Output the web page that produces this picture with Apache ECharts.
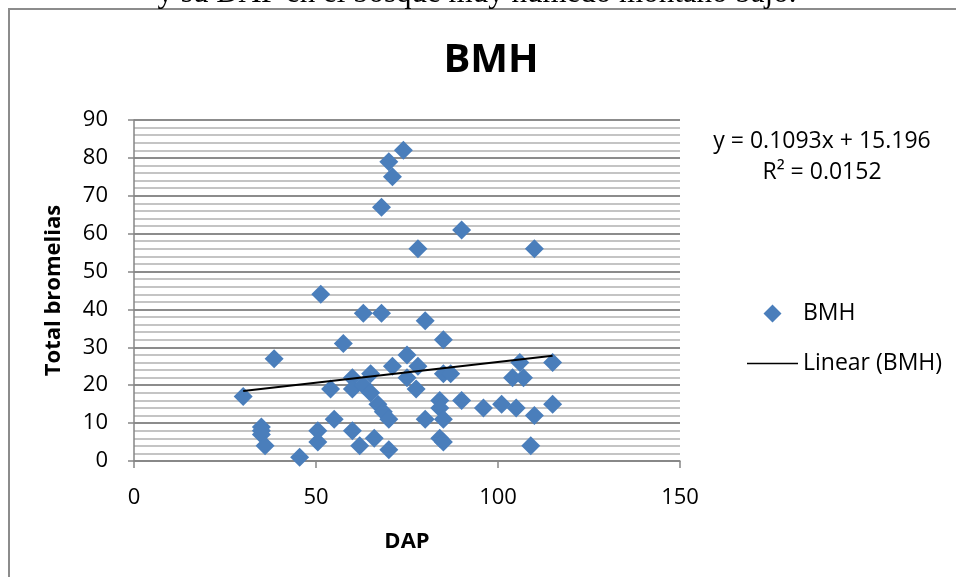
<!DOCTYPE html>
<html>
<head>
<meta charset="utf-8">
<script src="https://cdn.jsdelivr.net/npm/echarts@6/dist/echarts.min.js"></script>
<style>
html,body{margin:0;padding:0;background:#fff;}
#chart{width:956px;height:577px;}
</style>
</head>
<body>
<div id="chart"></div>
<script>
// DAP (x) values
var dap = [30,35,35,35,36,38.5,45.5,50.5,50.5,51.3,54,55,57.5,60,60,60,62,63,63,65,65,66,67,68.5,68,68,70,71,74,70,70,71,75,75,77.5,78,78,80,80,84,84,84,85,85,85,85,87,90,90,96,101,104,105,106,107,109,110,110,115,115];
// Total bromelias (y) values
var bromelias = [17,9,8,7,4,27,1,8,5,44,19,11,31,22,19,8,4,39,20,23,18,6,15,13,39,67,79,75,82,11,3,25,28,22,19,25,56,37,11,16,14,6,5,11,32,23,23,61,16,14,15,22,14,26,22,4,12,56,26,15];
var slope = 0.1093, intercept = 15.196;
var trendX = [30, 115];
var xTicks = [0, 50, 100, 150];
var yTicks = [0,10,20,30,40,50,60,70,80,90];

var pts = dap.map(function(x,i){return [x, bromelias[i]];});
var trend = trendX.map(function(x){return [x, slope*x+intercept];});

var FONT = '"Open Sans", "Noto Sans", sans-serif';
// legend icons: 51x18 box, invisible corner anchors keep the box size
var diamondIcon = 'path://M0,0L0.01,0L0,0.01Z M51,18L50.99,18L51,17.99Z M25.5,0L34.5,9L25.5,18L16.5,9Z';
var lineIcon = 'path://M0,0L0.01,0L0,0.01Z M51,18L50.99,18L51,17.99Z M0,8.2L51,8.2L51,9.8L0,9.8Z';

var chart = echarts.init(document.getElementById('chart'), null, {renderer:'canvas'});
chart.setOption({
  animation:false,
  backgroundColor:'#fff',
  title:{text:'BMH', left:486, top:36, textAlign:'center',
    textStyle:{fontFamily:FONT, fontWeight:'bold', fontSize:40, color:'#000'}},
  graphic:[
    {type:'rect', shape:{x:9, y:9, width:1000, height:700}, style:{fill:'none', stroke:'#8c8c8c', lineWidth:2}, z:-1},
    {type:'text', x:477, y:9, style:{text:'y su DAP en el bosque muy húmedo montano bajo.', fontFamily:'"Liberation Serif", serif', fontSize:31, fill:'#000', textAlign:'center', textVerticalAlign:'bottom'}},
    {type:'text', x:822, y:141, style:{text:'y = 0.1093x + 15.196', fontFamily:FONT, fontSize:23, fill:'#000', textAlign:'center', textVerticalAlign:'middle'}},
    {type:'text', x:822, y:172, style:{text:'R² = 0.0152', fontFamily:FONT, fontSize:23, fill:'#000', textAlign:'center', textVerticalAlign:'middle'}}
  ],
  legend:{left:742, top:297, orient:'vertical', itemWidth:51, itemHeight:18, itemGap:27,
      data:[
        {name:'BMH', icon:diamondIcon, itemStyle:{color:'#4a7ebb', borderWidth:0}},
        {name:'Linear (BMH)', icon:lineIcon, itemStyle:{color:'#000', borderWidth:0}, lineStyle:{width:0}}
      ],
      textStyle:{fontFamily:FONT, fontSize:23, color:'#000'}},
  grid:{left:134, right:276, top:120, bottom:116, containLabel:false},
  xAxis:{type:'value', min:0, max:150, interval:50,
    name:'DAP', nameLocation:'middle', nameGap:70,
    nameTextStyle:{fontFamily:FONT, fontWeight:'bold', fontSize:22, color:'#000'},
    axisLine:{show:true, onZero:false, lineStyle:{color:'#868686', width:1.5}},
    axisTick:{show:true, length:7, lineStyle:{color:'#868686', width:1.5}},
    axisLabel:{fontFamily:FONT, fontSize:22, color:'#000', margin:26,
      formatter:function(v){return xTicks.indexOf(v)>=0? String(v):'';}},
    splitLine:{show:false}},
  yAxis:{type:'value', min:0, max:90, interval:10,
    name:'Total bromelias', nameLocation:'middle', nameGap:69, nameRotate:90,
    nameTextStyle:{fontFamily:FONT, fontWeight:'bold', fontSize:22, color:'#000'},
    axisLine:{show:true, lineStyle:{color:'#868686', width:1.5}},
    axisTick:{show:true, length:6, lineStyle:{color:'#868686', width:1.5}},
    axisLabel:{fontFamily:FONT, fontSize:22, color:'#000', margin:26,
      formatter:function(v){return yTicks.indexOf(v)>=0? String(v):'';}},
    splitLine:{show:true, lineStyle:{color:'#8c8c8c', width:2}},
    minorTick:{show:false, splitNumber:5},
    minorSplitLine:{show:true, lineStyle:{color:'#c4c4c4', width:2}}},
  series:[
    {name:'BMH', type:'scatter', data:pts, symbol:'diamond', symbolSize:19,
      itemStyle:{color:'#4a7ebb', opacity:1}, z:3},
    {name:'Linear (BMH)', type:'line', data:trend, symbol:'none',
      lineStyle:{color:'#000', width:2}, itemStyle:{color:'#000'}, z:4}
  ]
});
</script>
</body>
</html>
